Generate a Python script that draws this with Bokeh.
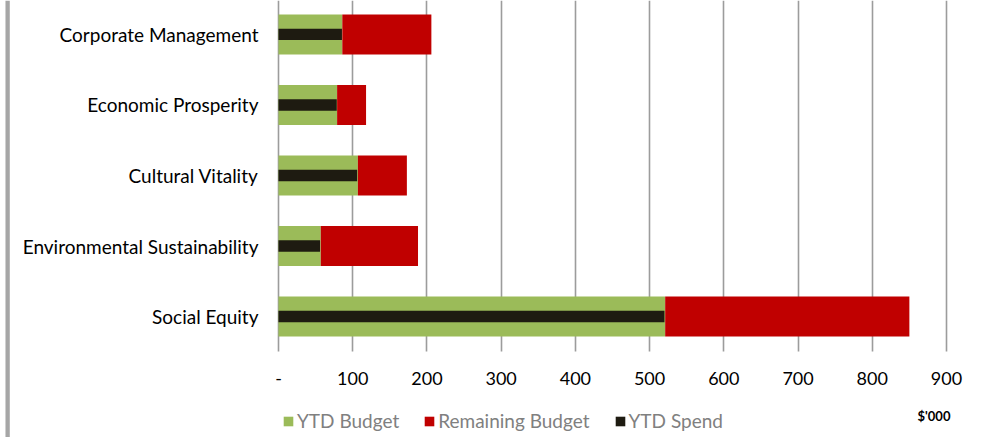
from bokeh.plotting import figure
from bokeh.models import (ColumnDataSource, FixedTicker, Range1d, Legend, LegendItem,
                          Label, Span, Grid)
from bokeh.embed import file_html
from bokeh.resources import INLINE

# ---- data (top of chart first) ----
categories = ["Corporate Management", "Economic Prosperity", "Cultural Vitality",
              "Environmental Sustainability", "Social Equity"]
ytd_budget = [86, 79, 107, 57, 521]
remaining_budget = [120, 39, 66, 131, 329]
ytd_spend = [85.5, 78.5, 106, 56, 520]
x_ticks = [0, 100, 200, 300, 400, 500, 600, 700, 800, 900]
x_tick_labels = ["-", "100", "200", "300", "400", "500", "600", "700", "800", "900"]
series_names = ["YTD Budget", "Remaining Budget", "YTD Spend"]
unit_label = "$'000"

n = len(categories)
ypos = [n - 1 - i for i in range(n)]
src = ColumnDataSource(dict(
    y=ypos,
    ytd=ytd_budget,
    total=[a + b for a, b in zip(ytd_budget, remaining_budget)],
    spend=ytd_spend,
    zero=[0] * n,
))

FONT = "Lato"
Y_TOP = 4.482
Y_BOTTOM = -1.716
p = figure(width=988, height=437, output_backend="svg", toolbar_location=None,
           x_range=Range1d(-374.5, 956.6), y_range=Range1d(Y_BOTTOM, Y_TOP),
           min_border_left=0, min_border_right=0, min_border_top=0,
           min_border_bottom=0)
p.outline_line_color = None
p.background_fill_color = "white"
p.border_fill_color = "white"

# vertical gridlines limited to the plot area
p.xgrid.ticker = FixedTicker(ticks=x_ticks)
p.ygrid.grid_line_color = None
if "cross_bounds" in Grid.properties():
    p.xgrid.cross_bounds = (-0.5, Y_TOP)
    p.xgrid.grid_line_color = "#9C9C9C"
    p.xgrid.grid_line_width = 1.6
else:
    p.xgrid.grid_line_color = None
    p.segment(x0=x_ticks, x1=x_ticks, y0=[-0.5] * len(x_ticks), y1=[Y_TOP] * len(x_ticks),
              line_color="#9C9C9C", line_width=1.6, level="underlay")

g = p.hbar(y="y", left="zero", right="ytd", height=0.567, source=src,
           fill_color="#9BBB59", line_color=None)
r = p.hbar(y="y", left="ytd", right="total", height=0.567, source=src,
           fill_color="#C00000", line_color=None)
k = p.hbar(y="y", left="zero", right="spend", height=0.16, source=src,
           fill_color="#1E1B11", line_color=None)

# axes
xa = p.xaxis[0]
xa.fixed_location = -0.5
xa.ticker = FixedTicker(ticks=x_ticks)
xa.major_label_overrides = {t: l for t, l in zip(x_ticks, x_tick_labels)}
xa.axis_line_color = None
xa.major_tick_line_color = None
xa.minor_tick_line_color = None
xa.major_tick_out = 0
xa.major_tick_in = 0
xa.major_label_standoff = 20
xa.major_label_text_font = FONT
xa.major_label_text_font_size = "18px"
xa.major_label_text_color = "#000000"

ya = p.yaxis[0]
ya.fixed_location = 0
ya.ticker = FixedTicker(ticks=ypos)
ya.major_label_overrides = {y: c for y, c in zip(ypos, categories)}
ya.axis_line_color = None
ya.major_tick_line_color = None
ya.minor_tick_line_color = None
ya.major_tick_out = 0
ya.major_tick_in = 0
ya.major_label_standoff = 20
ya.major_label_text_font = FONT
ya.major_label_text_font_size = "19px"
ya.major_label_text_color = "#000000"

# left page border
p.add_layout(Span(location=-364.9, dimension="height", line_color="#A6A6A6",
                  line_width=4.3))

legend = Legend(items=[LegendItem(label=series_names[0], renderers=[g]),
                       LegendItem(label=series_names[1], renderers=[r]),
                       LegendItem(label=series_names[2], renderers=[k])],
                location=(282, 5), orientation="horizontal",
                glyph_width=12, glyph_height=12, label_standoff=3, spacing=24,
                padding=0, margin=0, border_line_color=None,
                background_fill_alpha=0,
                label_text_font=FONT, label_text_font_size="19px",
                label_text_color="#808080")
p.add_layout(legend, "center")

p.add_layout(Label(x=861, y=-1.418, text=unit_label, text_font=FONT,
                   text_font_size="13px", text_font_style="bold",
                   text_baseline="middle", text_color="#000000"))

open("out.html", "w").write(file_html(p, INLINE))
